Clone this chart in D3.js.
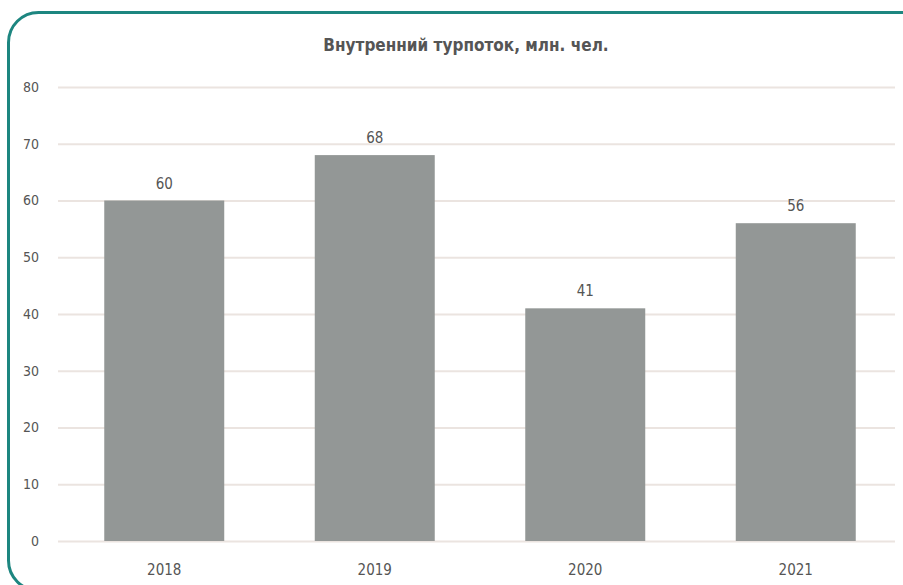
<!DOCTYPE html>
<html>
<head>
<meta charset="utf-8">
<script src="https://cdn.jsdelivr.net/npm/d3@7/dist/d3.min.js"></script>
<style>
  html, body { margin: 0; padding: 0; background: #ffffff; }
  svg { display: block; }
  text { font-family: "Liberation Sans Narrow", "DejaVu Sans Condensed", "Roboto Condensed", sans-serif; }
</style>
</head>
<body>
<svg id="chart" width="903" height="585"></svg>
<script>
// Domestic tourist flow, million people
const years = ["2018", "2019", "2020", "2021"];
const values = [60, 68, 41, 56];
const yTicks = [0, 10, 20, 30, 40, 50, 60, 70, 80];
const title = "Внутренний турпоток, млн. чел.";

const svg = d3.select("#chart");

// rounded teal frame
svg.append("rect")
  .attr("x", 8.5).attr("y", 12.5)
  .attr("width", 925).attr("height", 578)
  .attr("rx", 30).attr("ry", 30)
  .attr("fill", "#ffffff")
  .attr("stroke", "#1d8680")
  .attr("stroke-width", 3);

const x = d3.scaleBand()
  .domain(years)
  .range([59, 901])
  .paddingInner(0.43)
  .paddingOuter(0.215);

const y = d3.scaleLinear()
  .domain([0, 80])
  .range([541, 87]);

// horizontal grid lines
const grid = d3.axisLeft(y).tickValues(yTicks).tickSize(-(895 - 58)).tickFormat("");
svg.append("g")
  .attr("transform", "translate(58,0)")
  .call(grid)
  .call(g => g.select(".domain").remove())
  .call(g => g.selectAll("line").attr("stroke", "#ebe4e0").attr("stroke-width", 2));

// y-axis labels
const yAxis = d3.axisLeft(y).tickValues(yTicks).tickSize(0).tickPadding(0);
svg.append("g")
  .attr("transform", "translate(39,0)")
  .call(yAxis)
  .call(g => g.select(".domain").remove())
  .call(g => g.selectAll("text")
    .attr("fill", "#555555")
    .attr("font-size", 14)
    .attr("font-family", "'Liberation Sans Narrow', 'DejaVu Sans Condensed', sans-serif"));

// bars
svg.append("g").selectAll("rect")
  .data(values)
  .join("rect")
  .attr("x", (d, i) => x(years[i]))
  .attr("y", d => y(d))
  .attr("width", x.bandwidth())
  .attr("height", d => y(0) - y(d))
  .attr("fill", "#939796");

// value labels
svg.append("g").selectAll("text")
  .data(values)
  .join("text")
  .attr("x", (d, i) => x(years[i]) + x.bandwidth() / 2)
  .attr("y", d => y(d) - 12)
  .attr("text-anchor", "middle")
  .attr("fill", "#555555")
  .attr("font-size", 15)
  .text(d => d);

// x-axis labels
const xAxis = d3.axisBottom(x).tickSize(0).tickPadding(0);
svg.append("g")
  .attr("transform", "translate(0,564)")
  .call(xAxis)
  .call(g => g.select(".domain").remove())
  .call(g => g.selectAll("text")
    .attr("fill", "#555555")
    .attr("font-size", 15)
    .attr("font-family", "'Liberation Sans Narrow', 'DejaVu Sans Condensed', sans-serif"));

// title
svg.append("text")
  .attr("x", 466)
  .attr("y", 51)
  .attr("text-anchor", "middle")
  .attr("fill", "#555555")
  .attr("font-size", 17)
  .attr("font-weight", "bold")
  .text(title);
</script>
</body>
</html>
